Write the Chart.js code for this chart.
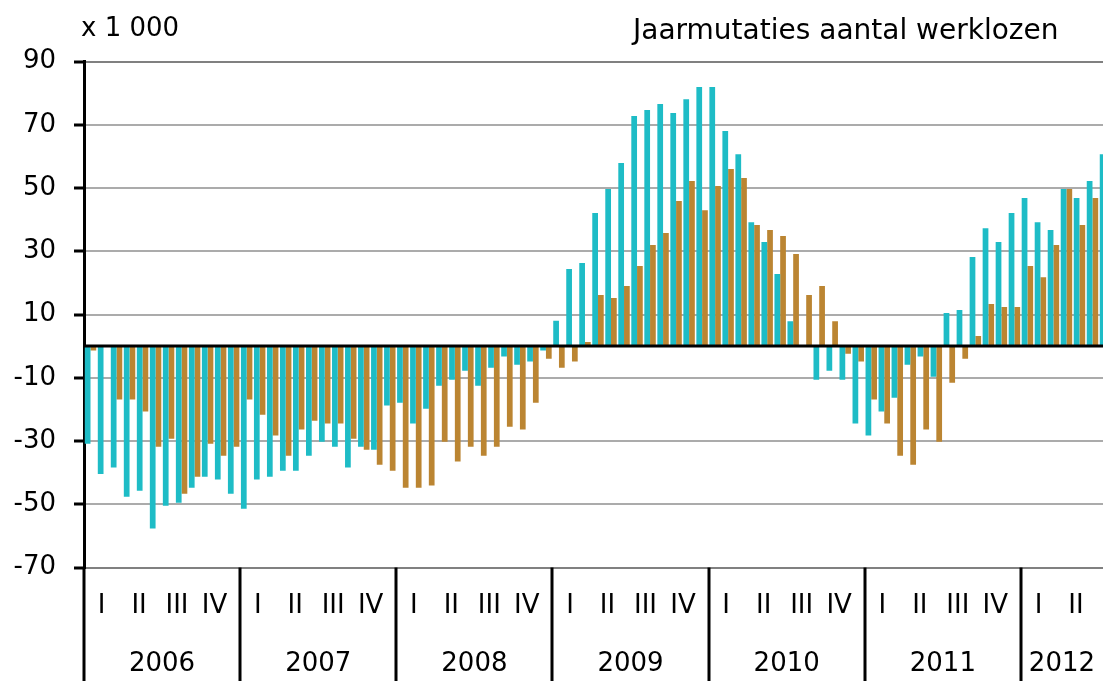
<!DOCTYPE html>
<html>
<head>
<meta charset="utf-8">
<script src="https://cdn.jsdelivr.net/npm/chart.js@4/dist/chart.umd.min.js"></script>
<style>
  html, body { margin: 0; padding: 0; background: #fff; overflow: hidden; }
  #wrap { position: relative; width: 1112px; height: 681px; }
</style>
</head>
<body>
<div id="wrap"><canvas id="chart" width="1112" height="681"></canvas></div>
<script>
// Jaarmutaties aantal werklozen (x 1 000), maandcijfers jan 2006 - jul 2012
const YEARS    = ['2006', '2007', '2008', '2009', '2010', '2011', '2012'];
const QUARTERS = ['I', 'II', 'III', 'IV'];
const MONTH_NAMES = ['jan', 'feb', 'mrt', 'apr', 'mei', 'jun', 'jul', 'aug', 'sep', 'okt', 'nov', 'dec'];
const Y_TICKS  = [90, 70, 50, 30, 10, -10, -30, -50, -70];

const TEAL = [
  -30.9, -40.4, -38.4, -47.6, -45.7, -57.7, -50.5, -49.5, -44.8, -41.3, -42.2, -46.7,
  -51.4, -42.2, -41.3, -39.4, -39.4, -34.7, -30.2, -31.8, -38.4, -31.8, -32.8, -18.8,
  -17.9, -24.5, -19.8, -12.5, -10.6,  -7.8, -12.5,  -6.8,  -3.3,  -5.9,  -4.9,  -1.4,
    8.0,  24.4,  26.3,  42.1,  49.7,  57.9,  72.8,  74.7,  76.6,  73.7,  78.1,  81.9,
   81.9,  68.0,  60.7,  39.2,  32.9,  22.8,   7.9,   0.0, -10.6,  -7.8, -10.6, -24.5,
  -28.3, -20.7, -16.3,  -5.9,  -3.3,  -9.7,  10.5,  11.4,  28.2,  37.3,  32.9,  42.1,
   46.8,  39.2,  36.7,  49.7,  46.8,  52.2,  60.7
];
const BROWN = [
   -1.4,   0.0, -16.9, -16.9, -20.7, -31.8, -29.3, -46.7, -41.3, -30.9, -34.7, -31.8,
  -16.9, -21.7, -28.3, -34.7, -26.4, -23.6, -24.5, -24.5, -29.3, -32.8, -37.5, -39.4,
  -44.8, -44.8, -44.1, -30.2, -36.5, -31.8, -34.7, -31.8, -25.5, -26.4, -17.9,  -4.0,
   -6.8,  -4.9,   1.3,  16.2,  15.2,  19.0,  25.3,  32.0,  35.8,  45.9,  52.2,  43.0,
   50.6,  56.0,  53.2,  38.3,  36.7,  34.8,  29.1,  16.2,  19.0,   7.9,  -2.4,  -4.9,
  -16.9, -24.5, -34.7, -37.5, -26.4, -30.2, -11.6,  -4.0,   3.2,  13.3,  12.4,  12.4,
   25.3,  21.8,  32.0,  49.7,  38.3,  46.8,  null
];

const MONTHS = YEARS.flatMap(y => MONTH_NAMES.map(m => m + ' ' + y)).slice(0, TEAL.length);

const VIEW_W = 1103;
const FONT = '"DejaVu Sans", sans-serif';
// quarter label centres, in months from the start of the year
const Q_POS = [1.35, 4.23, 7.15, 10.03];

const axisExtras = {
  id: 'axisExtras',
  afterDatasetsDraw(chart) {
    const { ctx, chartArea: a, scales: { y } } = chart;
    const y0 = Math.round(y.getPixelForValue(0));
    ctx.save();
    ctx.fillStyle = '#000';
    ctx.fillRect(a.left, y0 - 1.5, a.right - a.left, 3);
    ctx.restore();
  },
  afterDraw(chart) {
    const { ctx, chartArea: a, scales: { x } } = chart;
    const H = chart.height;
    ctx.save();
    ctx.fillStyle = '#000';
    ctx.textAlign = 'center';
    ctx.textBaseline = 'middle';
    YEARS.forEach((yr, k) => {
      const x0 = x.getPixelForValue(k * 12 - 0.5);
      const x1 = Math.min(x.getPixelForValue(k * 12 + 11.5), VIEW_W);
      ctx.fillRect(Math.round(x0) - 1.5, a.bottom, 3, H - a.bottom);
      ctx.font = '26px ' + FONT;
      QUARTERS.forEach((q, i) => {
        ctx.fillText(q, x.getPixelForValue(k * 12 - 0.5 + Q_POS[i]), 606);
      });
      ctx.fillText(yr, (x0 + x1) / 2, 664);
    });
    ctx.textAlign = 'left';
    ctx.font = '26px ' + FONT;
    ctx.fillText('x 1 000', 81, 29);
    ctx.font = '28px ' + FONT;
    ctx.fillText('Jaarmutaties aantal werklozen', 633, 32);
    ctx.restore();
  }
};

new Chart(document.getElementById('chart'), {
  type: 'bar',
  data: {
    labels: MONTHS,
    datasets: [
      { label: 'Reeks 1', data: TEAL,  backgroundColor: '#1ebcc6' },
      { label: 'Reeks 2', data: BROWN, backgroundColor: '#bb8532' }
    ]
  },
  options: {
    responsive: false,
    animation: false,
    layout: { padding: { top: 61.5, bottom: 113.5, left: 0, right: 0 } },
    datasets: { bar: { categoryPercentage: 0.88, barPercentage: 1.0 } },
    plugins: { legend: { display: false }, tooltip: { enabled: false } },
    scales: {
      x: { display: false },
      y: {
        min: -70, max: 90,
        afterBuildTicks: s => { s.ticks = Y_TICKS.map(v => ({ value: v })); },
        afterFit: s => { s.width = 84; },
        border: { display: true, color: '#000', width: 3 },
        grid: {
          color: c => (c.tick && (c.tick.value === 90 || c.tick.value === -70)) ? '#808080' : '#ababab',
          lineWidth: 2,
          tickColor: '#000', tickWidth: 3, tickLength: 10
        },
        ticks: { color: '#000', padding: 18, font: { family: FONT, size: 26 } }
      }
    }
  },
  plugins: [axisExtras]
});
</script>
</body>
</html>
